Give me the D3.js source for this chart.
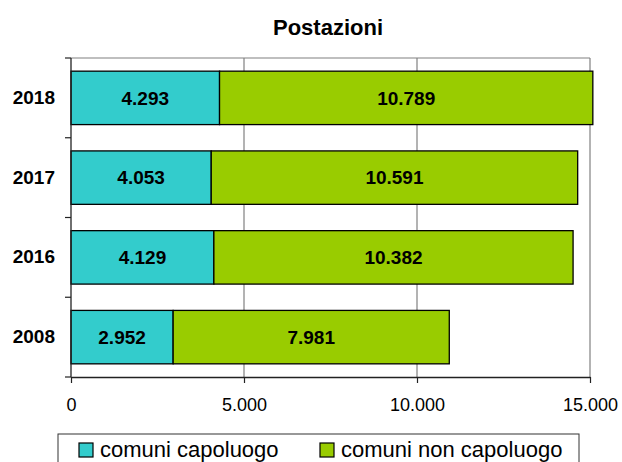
<!DOCTYPE html>
<html>
<head>
<meta charset="utf-8">
<script src="https://cdn.jsdelivr.net/npm/d3@7"></script>
<style>
  body { margin: 0; background: #fff; }
  svg { font-family: "Liberation Sans", Arial, sans-serif; }
</style>
</head>
<body>
<svg id="chart" width="622" height="462"></svg>
<script>
const years = ['2018', '2017', '2016', '2008']
const capoluogo = [4293, 4053, 4129, 2952]
const nonCapoluogo = [10789, 10591, 10382, 7981]
const seriesNames = ['comuni capoluogo', 'comuni non capoluogo']
const xTicks = [0, 5000, 10000, 15000]

const colors = ['#33cccc', '#99cc00']
const fmt = d3.formatLocale({ decimal: ',', thousands: '.', grouping: [3], currency: ['', ''] }).format(',d')
const fontFam = '"Liberation Sans", Arial, sans-serif'

const svg = d3.select('#chart')
const plotL = 71, plotR = 590, plotT = 58, plotB = 377

const x = d3.scaleLinear().domain([0, 15000]).range([plotL, plotR])
const y = d3.scaleBand().domain(years).range([plotT, plotB]).paddingInner(0.33).paddingOuter(0.165)

// title
svg.append('text')
  .attr('x', 328).attr('y', 35)
  .attr('text-anchor', 'middle')
  .attr('font-size', 22).attr('font-weight', 'bold')
  .text('Postazioni')

// grid lines
svg.append('g').selectAll('line')
  .data(xTicks.slice(1))
  .enter().append('line')
  .attr('x1', d => x(d)).attr('x2', d => x(d))
  .attr('y1', plotT).attr('y2', plotB)
  .attr('stroke', '#808080').attr('stroke-width', 1.2)
svg.append('line')
  .attr('x1', plotL).attr('x2', plotR)
  .attr('y1', plotT).attr('y2', plotT)
  .attr('stroke', '#808080').attr('stroke-width', 1.2)

// stacked bars
const rows = years.map((yr, i) => ({ year: yr, parts: [capoluogo[i], nonCapoluogo[i]] }))
const g = svg.append('g')
rows.forEach(r => {
  let acc = 0
  r.parts.forEach((v, j) => {
    const x0 = x(acc), x1 = x(acc + v)
    g.append('rect')
      .attr('x', x0).attr('y', y(r.year))
      .attr('width', x1 - x0).attr('height', y.bandwidth())
      .attr('fill', colors[j]).attr('stroke', '#000').attr('stroke-width', 1.3)
    g.append('text')
      .attr('x', (x0 + x1) / 2).attr('y', y(r.year) + y.bandwidth() / 2)
      .attr('dy', '0.36em')
      .attr('text-anchor', 'middle')
      .attr('font-size', 19).attr('font-weight', 'bold')
      .text(fmt(v))
    acc += v
  })
})

// x axis
const xAxis = svg.append('g')
  .attr('transform', `translate(0,${plotB})`)
  .call(d3.axisBottom(x).tickValues(xTicks).tickFormat(fmt).tickSize(6).tickSizeOuter(0))
xAxis.select('.domain').attr('stroke', '#222').attr('stroke-width', 1.3)
xAxis.selectAll('.tick line').attr('stroke', '#222').attr('stroke-width', 1.2)
xAxis.selectAll('text').attr('font-size', 18).attr('fill', '#000')
  .attr('y', 34).attr('dy', 0)
  .attr('font-family', fontFam)

// y axis
const yAxis = svg.append('g')
  .attr('transform', `translate(${plotL},0)`)
  .call(d3.axisLeft(y).tickSize(0).tickPadding(16))
yAxis.select('.domain').remove()
yAxis.selectAll('text').attr('font-size', 19).attr('font-weight', 'bold').attr('fill', '#000')
  .attr('font-family', fontFam)
svg.append('line')
  .attr('x1', plotL).attr('x2', plotL).attr('y1', plotT).attr('y2', plotB)
  .attr('stroke', '#222').attr('stroke-width', 1.3)
const bounds = d3.range(years.length + 1).map(i => plotT + (plotB - plotT) * i / years.length)
svg.append('g').selectAll('line')
  .data(bounds)
  .enter().append('line')
  .attr('x1', plotL - 6).attr('x2', plotL)
  .attr('y1', d => d).attr('y2', d => d)
  .attr('stroke', '#222').attr('stroke-width', 1.2)

// legend
const leg = svg.append('g')
leg.append('rect')
  .attr('x', 58).attr('y', 434).attr('width', 521).attr('height', 40)
  .attr('fill', '#fff').attr('stroke', '#333').attr('stroke-width', 1)
const legX = [79, 320]
seriesNames.forEach((name, i) => {
  leg.append('rect')
    .attr('x', legX[i]).attr('y', 443).attr('width', 14).attr('height', 14)
    .attr('fill', colors[i]).attr('stroke', '#000').attr('stroke-width', 1.2)
  leg.append('text')
    .attr('x', legX[i] + 21).attr('y', 456.5)
    .attr('font-size', 22)
    .text(name)
})
</script>
</body>
</html>
